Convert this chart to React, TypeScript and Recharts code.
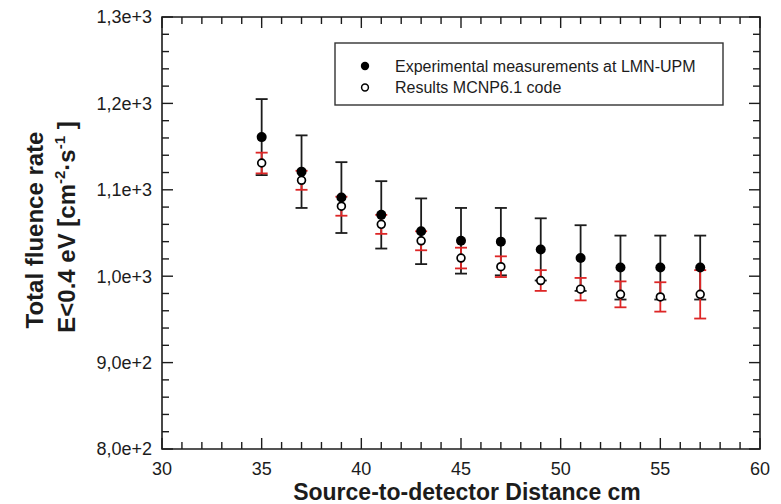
import { ErrorBar, ReferenceArea, Scatter, ScatterChart, XAxis, YAxis } from 'recharts';

// source-to-detector distance (cm)
const distances = [35, 37, 39, 41, 43, 45, 47, 49, 51, 53, 55, 57];
// experimental measurements at LMN-UPM
const measured = [1161, 1121, 1091, 1071, 1052, 1041, 1040, 1031, 1021, 1010, 1010, 1010];
const measuredErr = [44, 42, 41, 39, 38, 38, 39, 36, 38, 37, 37, 37];
// MCNP6.1 results
const simulated = [1131, 1111, 1081, 1060, 1041, 1021, 1011, 995, 985, 979, 976, 979];
const simulatedErr = [12, 11, 11, 11, 11, 12, 12, 12, 13, 15, 17, 28];

const xMajor = [30, 35, 40, 45, 50, 55, 60];
const xMajorLabels = ['30', '35', '40', '45', '50', '55', '60'];
const yMajor = [800, 900, 1000, 1100, 1200, 1300];
const yMajorLabels = ['8,0e+2', '9,0e+2', '1,0e+3', '1,1e+3', '1,2e+3', '1,3e+3'];
const xTicks = Array.from({ length: 31 }, (_, i) => 30 + i);
const yTicks = Array.from({ length: 26 }, (_, i) => 800 + i * 20);

const W = 781;
const H = 504;
const margin = { top: 17, right: 21, bottom: 45, left: 152 };
const TOP = margin.top;
const BOTTOM = 449;
const LEFT = 162;
const RIGHT = W - margin.right;

const FONT = '"Liberation Sans", Arial, sans-serif';
const INK = '#1c1c1c';
const RED = '#dd2626';

const measuredRows = distances.map((d, i) => ({ x: d, y: measured[i], err: measuredErr[i] }));
const simulatedRows = distances.map((d, i) => ({ x: d, y: simulated[i], err: simulatedErr[i] }));

function XTick(props: any) {
  const { x, payload } = props;
  const i = xMajor.indexOf(payload.value);
  const len = i >= 0 ? 11 : 7;
  return (
    <g>
      <line x1={x} y1={BOTTOM} x2={x} y2={BOTTOM - len} stroke={INK} strokeWidth={1.4} />
      <line x1={x} y1={TOP} x2={x} y2={TOP + len} stroke={INK} strokeWidth={1.4} />
      {i >= 0 && (
        <text x={x} y={BOTTOM + 26} textAnchor="middle" fontSize={18} fontFamily={FONT} fill={INK}>
          {xMajorLabels[i]}
        </text>
      )}
    </g>
  );
}

function YTick(props: any) {
  const { y, payload } = props;
  const i = yMajor.indexOf(payload.value);
  const len = i >= 0 ? 11 : 7;
  return (
    <g>
      <line x1={LEFT} y1={y} x2={LEFT + len} y2={y} stroke={INK} strokeWidth={1.4} />
      <line x1={RIGHT} y1={y} x2={RIGHT - len} y2={y} stroke={INK} strokeWidth={1.4} />
      {i >= 0 && (
        <text x={152} y={y} dy="0.35em" textAnchor="end" fontSize={18} fontFamily={FONT} fill={INK}>
          {yMajorLabels[i]}
        </text>
      )}
    </g>
  );
}

export default function App() {
  return (
    <div style={{ position: 'absolute', left: 0, top: 0, width: W, height: H, background: '#fff' }}>
      <ScatterChart width={W} height={H} margin={margin}>
        <XAxis
          type="number"
          dataKey="x"
          domain={[30, 60]}
          ticks={xTicks}
          interval={0}
          height={10}
          axisLine={false}
          tickLine={false}
          tick={(p: any) => <XTick {...p} />}
          allowDataOverflow
        />
        <YAxis
          type="number"
          dataKey="y"
          domain={[800, 1300]}
          ticks={yTicks}
          interval={0}
          width={10}
          axisLine={false}
          tickLine={false}
          tick={(p: any) => <YTick {...p} />}
          allowDataOverflow
        />
        <ReferenceArea x1={30} x2={60} y1={800} y2={1300} fill="none" stroke={INK} strokeWidth={1.6} />
        <Scatter
          data={measuredRows}
          isAnimationActive={false}
          shape={(p: any) => <circle cx={p.cx} cy={p.cy} r={5} fill="#000" />}
        >
          <ErrorBar dataKey="err" direction="y" width={6} stroke={INK} strokeWidth={1.8} />
        </Scatter>
        <Scatter
          data={simulatedRows}
          isAnimationActive={false}
          shape={(p: any) => (
            <circle cx={p.cx} cy={p.cy} r={3.9} fill="#fff" stroke="#000" strokeWidth={1.7} />
          )}
        >
          <ErrorBar dataKey="err" direction="y" width={6} stroke={RED} strokeWidth={1.8} />
        </Scatter>
      </ScatterChart>

      <svg
        width={W}
        height={H}
        style={{ position: 'absolute', left: 0, top: 0, pointerEvents: 'none' }}
        fontFamily={FONT}
      >
        <text x={467} y={500} textAnchor="middle" fontSize={23} fontWeight="bold" fill={INK}>
          Source-to-detector Distance cm
        </text>
        <text
          transform="translate(43,230) rotate(-90)"
          textAnchor="middle"
          fontSize={24}
          fontWeight="bold"
          fill={INK}
        >
          Total fluence rate
        </text>
        <text
          transform="translate(75,227) rotate(-90)"
          textAnchor="middle"
          fontSize={24}
          fontWeight="bold"
          fill={INK}
        >
          E&lt;0.4 eV [cm
          <tspan dy={-10} fontSize={15}>-2</tspan>
          <tspan dy={10}>·s</tspan>
          <tspan dy={-10} fontSize={15}>-1</tspan>
          <tspan dy={10}> ]</tspan>
        </text>

        <rect x={335} y={43} width={388} height={62} fill="#fff" stroke="#333" strokeWidth={1.4} />
        <circle cx={365} cy={66} r={4.2} fill="#000" />
        <text x={395} y={72} fontSize={16} fill={INK}>
          Experimental measurements at LMN-UPM
        </text>
        <circle cx={365} cy={87.5} r={3.4} fill="#fff" stroke="#000" strokeWidth={1.5} />
        <text x={395} y={92.5} fontSize={16} fill={INK}>
          Results MCNP6.1 code
        </text>
      </svg>
    </div>
  );
}
